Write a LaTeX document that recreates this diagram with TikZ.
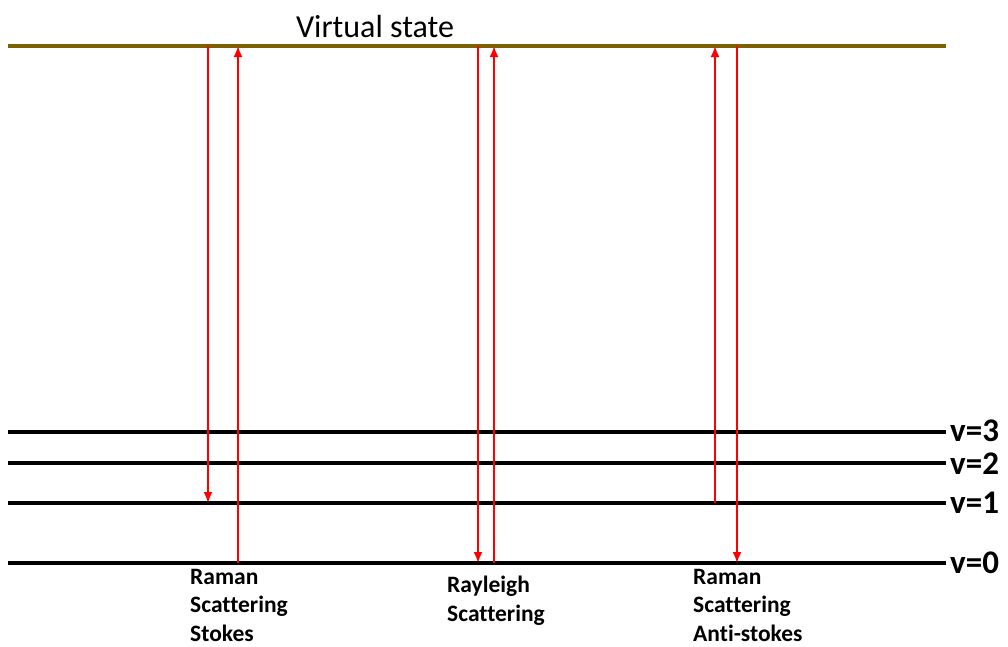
\documentclass[tikz,border=0pt]{standalone}
\usepackage{fontspec}
\setmainfont{Carlito}[Ligatures=NoCommon]
\usetikzlibrary{arrows.meta}

\begin{document}
\begin{tikzpicture}[
	x=1pt,y=-1pt,
	base/.style={>={Latex[length=11pt,width=9pt]}},
	level/.style={line width=3.5pt,draw=black},
	virtual/.style={line width=3.5pt,draw={rgb,255:red,127;green,96;blue,0}},
	photon/.style={base,->,line width=1.8pt,draw=red,color=red},
	vlabel/.style={anchor=west,font=\fontsize{33}{33}\selectfont\bfseries,inner sep=0pt},
	caption/.style={anchor=north west,align=left,inner sep=0pt,font=\fontsize{23.5}{28.5}\selectfont\bfseries},
	]
	
	\useasboundingbox (0,0) rectangle (1008,646);
	
	% levels
	\coordinate (VL) at (8,46);   \coordinate (VR) at (946,46);
	\coordinate (L3) at (8,432);  \coordinate (R3) at (946,432);
	\coordinate (L2) at (8,463);  \coordinate (R2) at (946,463);
	\coordinate (L1) at (8,503);  \coordinate (R1) at (946,503);
	\coordinate (L0) at (8,563);  \coordinate (R0) at (946,563);
	
	\draw[virtual] (VL) -- (VR);
	\node (virt) [anchor=south,inner sep=0pt,font=\fontsize{32}{32}\selectfont] at (375,38) {Virtual state};
	
	\draw[level] (L3) -- (R3);
	\draw[level] (L2) -- (R2);
	\draw[level] (L1) -- (R1);
	\draw[level] (L0) -- (R0);
	\node (v3) [vlabel] at (950,431) {v=3};
	\node (v2) [vlabel] at (950,464) {v=2};
	\node (v1) [vlabel] at (950,503) {v=1};
	\node (v0) [vlabel] at (950,563) {v=0};
	
	% Stokes
	\coordinate (Sa) at (208,46);  \coordinate (Sb) at (208,503);
	\coordinate (Sc) at (238,563); \coordinate (Sd) at (238,46);
	\draw[photon] (Sa) -- (Sb);
	\draw[photon] (Sc) -- (Sd);
	
	% Rayleigh
	\coordinate (Ra) at (478,46);  \coordinate (Rb) at (478,563);
	\coordinate (Rc) at (494,563); \coordinate (Rd) at (494,46);
	\draw[photon] (Ra) -- (Rb);
	\draw[photon] (Rc) -- (Rd);
	
	% Anti-stokes
	\coordinate (Aa) at (715,503); \coordinate (Ab) at (715,46);
	\coordinate (Ac) at (737,46);  \coordinate (Ad) at (737,563);
	\draw[photon] (Aa) -- (Ab);
	\draw[photon] (Ac) -- (Ad);
	
	\node (stokes) [caption] at (190,569) {Raman\\Scattering\\Stokes};
	\node (rayleigh) [caption] at (447,576) {Rayleigh\\Scattering};
	\node (anti) [caption] at (693,569) {Raman\\Scattering\\Anti-stokes};

\end{tikzpicture}
\end{document}
